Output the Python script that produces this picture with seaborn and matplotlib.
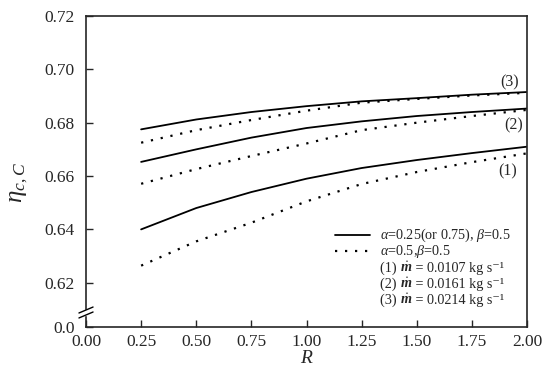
import numpy as np
import pandas as pd
import matplotlib
matplotlib.use("Agg")
import matplotlib.pyplot as plt
import seaborn as sns
from matplotlib.offsetbox import TextArea, HPacker, AnnotationBbox

# ---- data ----
R = [0.25, 0.50, 0.75, 1.00, 1.25, 1.50, 1.75, 2.00]
solid_1 = [0.6400, 0.6480, 0.6540, 0.6590, 0.6630, 0.6660, 0.6686, 0.6710]
dot_1 = [0.6264, 0.6355, 0.6425, 0.6505, 0.6570, 0.6615, 0.6652, 0.6685]
solid_2 = [0.6653, 0.6700, 0.6744, 0.6780, 0.6805, 0.6825, 0.6840, 0.6853]
dot_2 = [0.6571, 0.6626, 0.6675, 0.6722, 0.6772, 0.6800, 0.6825, 0.6848]
solid_3 = [0.6775, 0.6812, 0.6840, 0.6862, 0.6880, 0.6892, 0.6905, 0.6915]
dot_3 = [0.6725, 0.6772, 0.6810, 0.6845, 0.6875, 0.6889, 0.6902, 0.6912]

y_ticks = [0.6034, 0.62, 0.64, 0.66, 0.68, 0.70, 0.72]
y_ticklabels = ["0.0", "0.62", "0.64", "0.66", "0.68", "0.70", "0.72"]
x_ticks = [0.00, 0.25, 0.50, 0.75, 1.00, 1.25, 1.50, 1.75, 2.00]
x_ticklabels = ["0.00", "0.25", "0.50", "0.75", "1.00", "1.25", "1.50", "1.75", "2.00"]

curve_labels = ["(1)", "(2)", "(3)"]
label_pos = [(1.91, 0.6617), (1.94, 0.6788), (1.92, 0.6951)]

legend_line_texts = [r"$\alpha$=0.25(or 0.75), $\beta$=0.5",
                     r"$\alpha$=0.5,$\beta$=0.5"]
legend_line_styles = ["solid", "dot"]
flow_ids = ["(1)", "(2)", "(3)"]
flow_rates = ["0.0107", "0.0161", "0.0214"]

rows = []
for name, vals, sty in [("1s", solid_1, "solid"), ("1d", dot_1, "dot"),
                        ("2s", solid_2, "solid"), ("2d", dot_2, "dot"),
                        ("3s", solid_3, "solid"), ("3d", dot_3, "dot")]:
    for r, v in zip(R, vals):
        rows.append({"R": r, "eta": v, "curve": name, "style": sty})
df = pd.DataFrame(rows)

sns.set_style("ticks")
FAM = ["Liberation Serif", "DejaVu Serif"]
plt.rcParams["font.family"] = FAM
plt.rcParams["mathtext.fontset"] = "custom"
plt.rcParams["mathtext.rm"] = "Liberation Serif"
plt.rcParams["mathtext.it"] = "Liberation Serif:italic"
plt.rcParams["mathtext.bf"] = "Liberation Serif:bold"
plt.rcParams["mathtext.bfit"] = "Liberation Serif:bold:italic"

W, H = 550, 373
L, Rr, T, B = 86, 527, 16, 327
fig = plt.figure(figsize=(5.5, 3.73), dpi=100)
ax = fig.add_axes([L / W, 1 - B / H, (Rr - L) / W, (B - T) / H])

def ax_xy(px, py):
    return (px - L) / (Rr - L), 1 - (py - T) / (B - T)

DOT = (0, (1, 3.5))
for name in ["1s", "1d", "2s", "2d", "3s", "3d"]:
    sub = df[df["curve"] == name]
    solid = name.endswith("s")
    sns.lineplot(data=sub, x="R", y="eta", ax=ax, color="black",
                 linestyle="-" if solid else DOT,
                 linewidth=1.3 if solid else 1.6, legend=False)

for lab, (x, y) in zip(curve_labels, label_pos):
    ax.text(x, y, lab, fontsize=11.5, ha="center", va="center")

ax.set_xlim(0, 2.0)
ax.set_ylim(0.6034, 0.72)
ax.set_xticks(x_ticks)
ax.set_xticklabels(x_ticklabels)
ax.set_yticks(y_ticks)
ax.set_yticklabels(y_ticklabels)
ax.tick_params(direction="in", labelsize=12.5, length=5, width=1.0)
ax.tick_params(axis="y", pad=8)
ax.tick_params(axis="x", pad=5)
for s in ax.spines.values():
    s.set_linewidth(1.2)
ax.set_xlabel(r"$R$", fontsize=14, labelpad=0)
ax.set_ylabel(r"$\eta_{c,C}$", fontsize=18)
ax.yaxis.set_label_coords(*ax_xy(30, 183))

# legend drawn as key lines + texts
FS = 10.2
row_y = [235, 251, 268, 284, 300]
for txt, sty, py in zip(legend_line_texts, legend_line_styles, row_y[:2]):
    x0, y0 = ax_xy(335, py)
    x1, _ = ax_xy(370, py)
    ax.plot([x0, x1], [y0, y0], transform=ax.transAxes, color="black",
            lw=1.3 if sty == "solid" else 1.6,
            ls="-" if sty == "solid" else DOT)
    tx, ty = ax_xy(380, py)
    ax.text(tx, ty, txt, transform=ax.transAxes, fontsize=FS, va="center", ha="left")

for fid, rate, py in zip(flow_ids, flow_rates, row_y[2:]):
    tp = dict(fontsize=FS, family=FAM)
    box = HPacker(children=[TextArea(fid + " ", textprops=tp),
                            TextArea(r"$\dot{\mathbfit{m}}$", textprops=tp),
                            TextArea(" = " + rate + " kg s⁻¹", textprops=tp)],
                  pad=0, sep=0, align="baseline")
    ab = AnnotationBbox(box, ax_xy(380, py), xycoords=ax.transAxes,
                        box_alignment=(0, 0.5), frameon=False, pad=0)
    ax.add_artist(ab)

# axis break marks on left spine
yb = 1 - (312.5 - T) / (B - T)
ax.add_patch(plt.Rectangle((-0.01, yb - 0.008), 0.02, 0.016, transform=ax.transAxes,
                           color="white", clip_on=False, zorder=5))
for dy in (-0.008, 0.008):
    ax.plot([-0.016, 0.016], [yb + dy - 0.0096, yb + dy + 0.0096], transform=ax.transAxes,
            color="black", lw=1.0, clip_on=False, zorder=6)

fig.savefig("out.png", dpi=100)
